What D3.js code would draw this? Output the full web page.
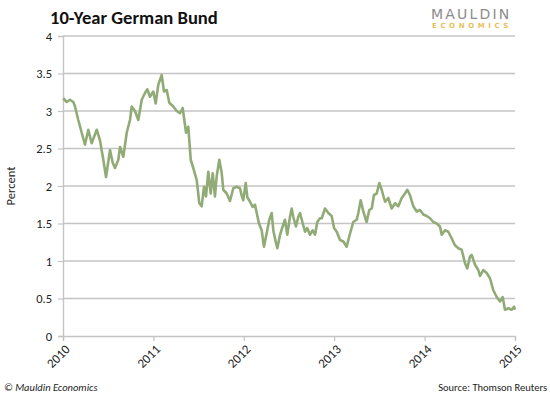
<!DOCTYPE html>
<html>
<head>
<meta charset="utf-8">
<script src="https://cdn.jsdelivr.net/npm/d3@7"></script>
<style>
  html, body { margin: 0; padding: 0; background: #fff; }
  svg { display: block; }
</style>
</head>
<body>
<svg id="chart" width="550" height="398"></svg>
<script>
// ---- data (decimal year, yield in percent) ----
const dates = [
  2010.003, 2010.041, 2010.077, 2010.114, 2010.133, 2010.169, 2010.207, 2010.243, 2010.280, 2010.317,
  2010.373, 2010.409, 2010.446, 2010.476, 2010.520, 2010.550, 2010.575, 2010.612, 2010.631, 2010.667,
  2010.705, 2010.741, 2010.760, 2010.796, 2010.833, 2010.871, 2010.907, 2010.933, 2010.962, 2010.999,
  2011.025, 2011.054, 2011.092, 2011.117, 2011.147, 2011.176, 2011.220, 2011.258, 2011.294, 2011.324,
  2011.361, 2011.386, 2011.413, 2011.441, 2011.479, 2011.508, 2011.534, 2011.560, 2011.582, 2011.607,
  2011.634, 2011.656, 2011.681, 2011.700, 2011.729, 2011.756, 2011.773, 2011.811, 2011.847, 2011.884,
  2011.921, 2011.958, 2011.977, 2011.994, 2012.021, 2012.039, 2012.069, 2012.098, 2012.124, 2012.143,
  2012.168, 2012.198, 2012.223, 2012.253, 2012.282, 2012.309, 2012.326, 2012.356, 2012.371, 2012.401,
  2012.430, 2012.456, 2012.481, 2012.511, 2012.530, 2012.547, 2012.577, 2012.603, 2012.622, 2012.652,
  2012.677, 2012.702, 2012.732, 2012.762, 2012.788, 2012.813, 2012.843, 2012.862, 2012.898, 2012.935,
  2012.972, 2012.998, 2013.028, 2013.064, 2013.101, 2013.138, 2013.167, 2013.211, 2013.249, 2013.267,
  2013.293, 2013.322, 2013.359, 2013.388, 2013.415, 2013.440, 2013.470, 2013.499, 2013.525, 2013.562,
  2013.598, 2013.636, 2013.673, 2013.709, 2013.747, 2013.783, 2013.809, 2013.838, 2013.875, 2013.913,
  2013.949, 2013.986, 2014.023, 2014.060, 2014.096, 2014.134, 2014.170, 2014.189, 2014.226, 2014.262,
  2014.300, 2014.336, 2014.373, 2014.410, 2014.447, 2014.472, 2014.502, 2014.521, 2014.558, 2014.594,
  2014.613, 2014.649, 2014.687, 2014.723, 2014.760, 2014.798, 2014.834, 2014.864, 2014.889, 2014.926,
  2014.963, 2014.989, 2015.000
];
const yields = [
  3.17, 3.12, 3.15, 3.12, 3.06, 2.88, 2.71, 2.55, 2.75, 2.57,
  2.75, 2.61, 2.35, 2.12, 2.48, 2.31, 2.24, 2.35, 2.52, 2.39,
  2.71, 2.88, 3.06, 3.00, 2.88, 3.15, 3.24, 3.29, 3.19, 3.26,
  3.10, 3.35, 3.48, 3.26, 3.28, 3.11, 3.06, 3.00, 2.97, 3.04,
  2.71, 2.79, 2.35, 2.24, 2.08, 1.77, 1.73, 1.99, 1.86, 2.19,
  1.90, 2.17, 1.86, 2.13, 2.35, 2.17, 1.95, 1.90, 1.80, 1.97,
  1.99, 1.97, 1.87, 1.81, 2.04, 1.85, 1.79, 1.72, 1.75, 1.64,
  1.50, 1.41, 1.19, 1.37, 1.55, 1.64, 1.41, 1.24, 1.17, 1.35,
  1.46, 1.55, 1.35, 1.59, 1.70, 1.59, 1.46, 1.59, 1.64, 1.50,
  1.39, 1.44, 1.35, 1.41, 1.35, 1.52, 1.57, 1.57, 1.70, 1.64,
  1.60, 1.44, 1.39, 1.28, 1.26, 1.19, 1.33, 1.52, 1.55, 1.64,
  1.81, 1.66, 1.52, 1.68, 1.70, 1.88, 1.90, 2.04, 1.95, 1.79,
  1.84, 1.70, 1.77, 1.73, 1.84, 1.90, 1.95, 1.88, 1.73, 1.66,
  1.68, 1.62, 1.60, 1.57, 1.52, 1.50, 1.46, 1.35, 1.41, 1.39,
  1.30, 1.21, 1.17, 1.15, 0.97, 0.90, 1.06, 1.08, 0.95, 0.88,
  0.80, 0.88, 0.84, 0.77, 0.61, 0.52, 0.46, 0.52, 0.35, 0.37,
  0.35, 0.39, 0.35
];
const yTicks = [0, 0.5, 1, 1.5, 2, 2.5, 3, 3.5, 4];
const xTicks = [2010, 2011, 2012, 2013, 2014, 2015];

const title = "10-Year German Bund";
const yLabel = "Percent";
const footLeft = "© Mauldin Economics";
const footRight = "Source: Thomson Reuters";

// ---- layout ----
const W = 550, H = 398;
const margin = { top: 36, right: 35, bottom: 62, left: 63 };
const svg = d3.select("#chart");
const x = d3.scaleLinear().domain([2010, 2015]).range([margin.left, W - margin.right]);
const y = d3.scaleLinear().domain([0, 4]).range([H - margin.bottom, margin.top]);

const font = "Carlito, Calibri, 'Open Sans', 'Liberation Sans', sans-serif";
const gridColor = "#c4c4c4";
const textColor = "#222";

// gridlines
svg.append("g")
  .selectAll("line")
  .data(yTicks.filter(d => d > 0))
  .join("line")
  .attr("x1", x(2010)).attr("x2", x(2015))
  .attr("y1", d => y(d)).attr("y2", d => y(d))
  .attr("stroke", gridColor).attr("stroke-width", 1.4);

// y axis
const yAxis = svg.append("g")
  .attr("transform", `translate(${x(2010)},0)`)
  .call(d3.axisLeft(y).tickValues(yTicks).tickSize(5).tickPadding(6).tickFormat(d3.format("")));
yAxis.select(".domain").attr("stroke", gridColor).attr("stroke-width", 1.4);
yAxis.selectAll(".tick line").attr("stroke", gridColor).attr("stroke-width", 1.2);
yAxis.selectAll(".tick text").attr("font-family", font).attr("font-size", 12.5).attr("fill", textColor);

// x axis
const xAxis = svg.append("g")
  .attr("transform", `translate(0,${y(0)})`)
  .call(d3.axisBottom(x).tickValues(xTicks).tickSize(5).tickFormat(d3.format("d")));
xAxis.select(".domain").attr("stroke", gridColor).attr("stroke-width", 1.4);
xAxis.selectAll(".tick line").attr("stroke", gridColor).attr("stroke-width", 1.2);
xAxis.selectAll(".tick text")
  .attr("font-family", font).attr("font-size", 13).attr("fill", textColor)
  .attr("text-anchor", "end")
  .attr("dy", null)
  .attr("y", 0)
  .attr("transform", "translate(5,12) rotate(-45)")
  .attr("dominant-baseline", "middle");

// line
const pts = dates.map((d, i) => [d, yields[i]]);
svg.append("path")
  .datum(pts)
  .attr("fill", "none")
  .attr("stroke", "#91ab77")
  .attr("stroke-width", 2.6)
  .attr("stroke-linejoin", "round")
  .attr("d", d3.line().x(d => x(d[0])).y(d => y(d[1])));

// y label
svg.append("text")
  .attr("transform", `translate(15,${(y(0) + y(4)) / 2}) rotate(-90)`)
  .attr("text-anchor", "middle")
  .attr("font-family", font).attr("font-size", 12.5).attr("fill", textColor)
  .text(yLabel);

// title
const t = svg.append("text")
  .attr("x", 50).attr("y", 24)
  .attr("font-family", font).attr("font-weight", "bold").attr("font-size", 18)
  .attr("fill", "#111")
  .text(title);
const tw = t.node().getComputedTextLength();
t.attr("font-size", 18 * 168 / tw);

// logo
svg.append("text")
  .attr("x", 431).attr("y", 19)
  .attr("font-family", "'DejaVu Sans', sans-serif").attr("font-size", 14)
  .attr("letter-spacing", 2.2)
  .attr("fill", "#8c8c8c")
  .text("MAULDIN");
svg.append("text")
  .attr("x", 432).attr("y", 27.5)
  .attr("font-family", "'DejaVu Sans', sans-serif").attr("font-size", 7).attr("font-weight", "bold")
  .attr("letter-spacing", 3.6)
  .attr("fill", "#e6c15a")
  .text("ECONOMICS");

// footers
svg.append("text")
  .attr("x", 4).attr("y", 391)
  .attr("font-family", font).attr("font-size", 10.5).attr("font-style", "italic")
  .attr("fill", textColor)
  .text(footLeft);
svg.append("text")
  .attr("x", 547).attr("y", 391)
  .attr("text-anchor", "end")
  .attr("font-family", font).attr("font-size", 10.5)
  .attr("fill", textColor)
  .text(footRight);
</script>
</body>
</html>
